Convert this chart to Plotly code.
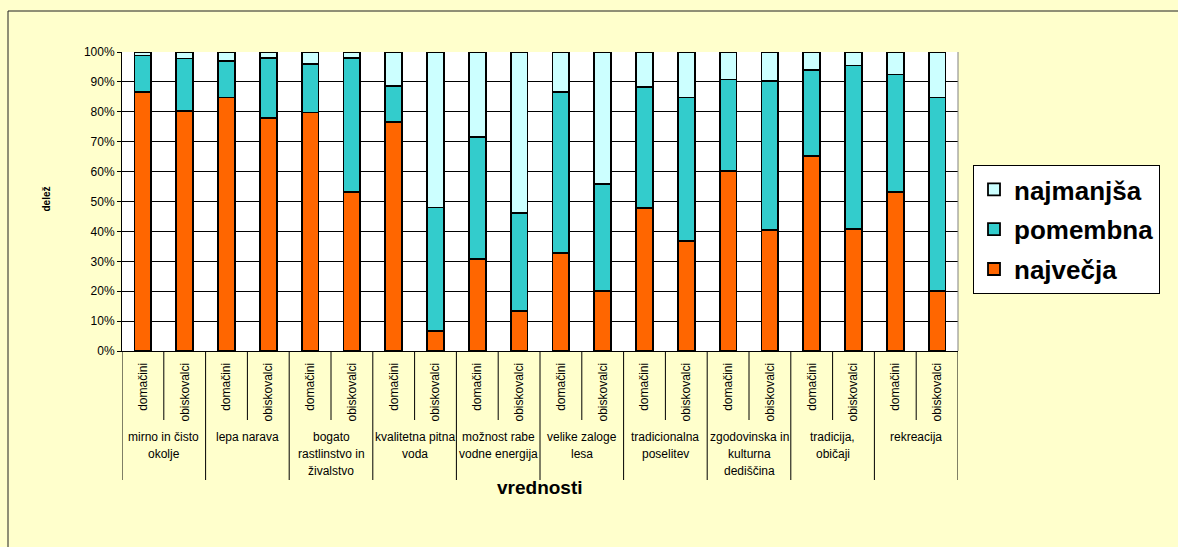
import plotly.graph_objects as go

# ---- data ----
groups = [
    "mirno in čisto\nokolje",
    "lepa narava",
    "bogato\nrastlinstvo in\nživalstvo",
    "kvalitetna pitna\nvoda",
    "možnost rabe\nvodne energija",
    "velike zaloge\nlesa",
    "tradicionalna\nposelitev",
    "zgodovinska in\nkulturna\ndediščina",
    "tradicija,\nobičaji",
    "rekreacija",
]
subgroups = ["domačini", "obiskovalci"]

najvecja = [86.7, 80.3, 84.8, 77.8, 79.8, 53.3, 76.5, 6.8, 30.8, 13.5,
            32.7, 20.2, 47.7, 36.8, 60.3, 40.5, 65.3, 40.8, 53.3, 20.2]
pomembna = [12.1, 17.5, 12.1, 20.2, 16.1, 44.7, 12.1, 41.2, 40.9, 32.6,
            54.0, 35.7, 40.7, 48.0, 30.5, 49.9, 28.6, 54.7, 39.2, 64.6]
najmanjsa = [1.2, 2.2, 3.1, 2.0, 4.1, 2.0, 11.4, 52.0, 28.3, 53.9,
             13.3, 44.1, 11.6, 15.2, 9.2, 9.6, 6.1, 4.5, 7.5, 15.2]

series_names = ["največja", "pomembna", "najmanjša"]
series_colors = ["#FF6600", "#33CCCC", "#CCFFFF"]

y_ticks = list(range(0, 101, 10))

# ---- build ----
cats = [f"{g}|{s}" for g in groups for s in subgroups]
sub_text = [s for g in groups for s in subgroups]

FONT = "Liberation Sans, Arial, sans-serif"

W, H = 1178, 547
L, R, T, B = 122, 958, 52, 351
pw, ph = R - L, B - T


def py(p):  # pixel y -> paper y
    return (B - p) / ph


def px(p):  # pixel x -> paper x
    return (p - L) / pw


fig = go.Figure()
for rank, (name, vals, col) in enumerate(zip(series_names, [najvecja, pomembna, najmanjsa], series_colors)):
    fig.add_trace(go.Bar(
        x=cats, y=vals, name=name, width=0.4,
        marker=dict(color=col, line=dict(color="black", width=1.8)),
        legendgroup=name, legendrank=3 - rank,
    ))

shapes = []
# category dividers below axis
n = len(cats)
for i in range(n + 1):
    y1 = py(480) if i % 2 == 0 else py(420)
    shapes.append(dict(type="line", xref="x", yref="paper", x0=i - 0.5, x1=i - 0.5,
                       y0=0, y1=y1, line=dict(color="#000000", width=1)))
# right plot border
shapes.append(dict(type="line", xref="paper", yref="paper", x0=1, x1=1, y0=0, y1=1,
                   line=dict(color="#808080", width=1)))
# outer chart frame (left and top edges visible)
shapes.append(dict(type="line", xref="paper", yref="paper",
                   x0=px(8), x1=px(8), y0=py(11), y1=py(560),
                   line=dict(color="#202020", width=1), layer="below"))
shapes.append(dict(type="line", xref="paper", yref="paper",
                   x0=px(8), x1=px(1190), y0=py(11), y1=py(11),
                   line=dict(color="#202020", width=1), layer="below"))

annotations = []
for gi, g in enumerate(groups):
    for k, line in enumerate(g.split("\n")):
        annotations.append(dict(
            x=2 * gi + 0.5, xref="x", y=py(437 + 17 * k), yref="paper",
            text=line, showarrow=False, xanchor="center", yanchor="middle",
            font=dict(family=FONT, size=12, color="black")))
annotations.append(dict(x=0.5, xref="paper", y=py(500), yref="paper",
                        text="<b>vrednosti</b>", showarrow=False,
                        font=dict(family=FONT, size=19, color="black")))
annotations.append(dict(x=px(38), xref="paper", y=py(199), yref="paper",
                        text="<b>delež</b>", showarrow=False, textangle=-90,
                        font=dict(family=FONT, size=10, color="black")))

fig.update_layout(
    width=W, height=H, autosize=False,
    margin=dict(l=L, r=W - R, t=T, b=H - B, pad=0),
    paper_bgcolor="#FFFFCC", plot_bgcolor="white",
    barmode="stack", bargap=0.6,
    font=dict(family=FONT, color="black"),
    shapes=shapes, annotations=annotations,
    legend=dict(
        x=px(973), y=py(165), xanchor="left", yanchor="top",
        bgcolor="white", bordercolor="black", borderwidth=1,
        font=dict(family=FONT, size=26, color="black", weight="bold"),
        traceorder="grouped", tracegroupgap=3,
        itemwidth=30,
    ),
    xaxis=dict(
        type="category", categoryorder="array", categoryarray=cats,
        tickmode="array", tickvals=cats, ticktext=sub_text, tickangle=-90,
        tickfont=dict(family=FONT, size=12, color="black"),
        ticks="outside", ticklen=6, tickcolor="rgba(0,0,0,0)",
        showline=True, linecolor="black", linewidth=1, showgrid=False,
        range=[-0.5, n - 0.5],
    ),
    yaxis=dict(
        range=[0, 100], tickmode="array", tickvals=y_ticks,
        ticktext=[f"{v}%" for v in y_ticks],
        tickfont=dict(family=FONT, size=12, color="black"),
        ticks="outside", ticklen=4, tickcolor="black",
        showline=True, linecolor="black", linewidth=1,
        showgrid=True, gridcolor="black", gridwidth=1, zeroline=False,
    ),
)

fig.write_html("out.html", config={"displayModeBar": False},
               post_script="document.body.style.margin='0';document.body.style.overflow='hidden';document.documentElement.style.overflow='hidden';")
